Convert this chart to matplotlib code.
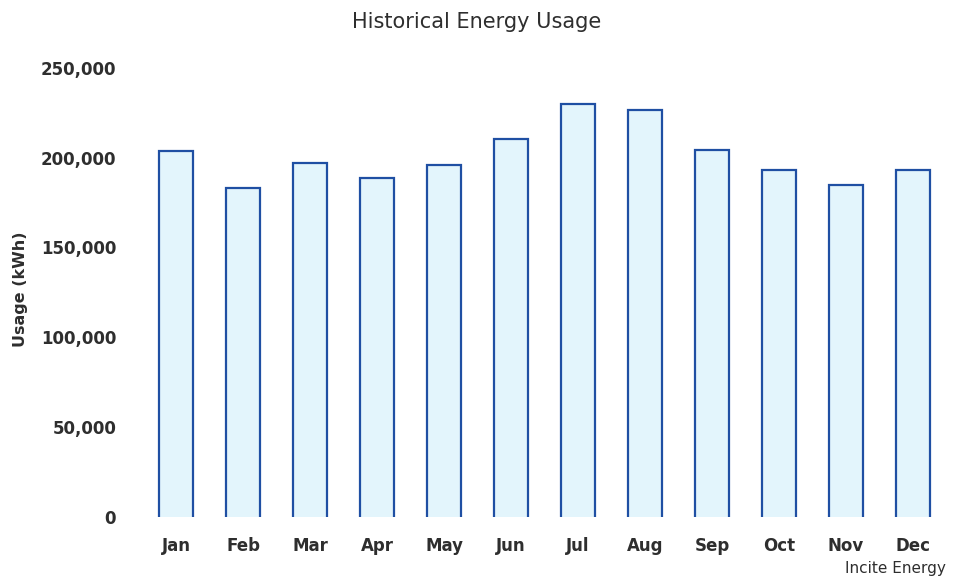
import matplotlib
matplotlib.use('Agg')
import matplotlib.pyplot as plt
from matplotlib.ticker import FuncFormatter

months = ['Jan', 'Feb', 'Mar', 'Apr', 'May', 'Jun',
          'Jul', 'Aug', 'Sep', 'Oct', 'Nov', 'Dec']
usage_kwh = [203600, 182900, 197100, 188800, 195800, 210100,
             229500, 226300, 204000, 192900, 184800, 192900]
y_ticks = [0, 50000, 100000, 150000, 200000, 250000]

fill_col = '#e3f5fc'
edge_col = '#1f4fa3'
text_col = '#2e2e2e'

fig = plt.figure(figsize=(9.54, 5.78), dpi=100)
ax = fig.add_axes([0.1494, 0.1047, 0.8427, 0.7785])

bars = ax.bar(range(len(months)), usage_kwh, width=0.5,
              color=fill_col, edgecolor='none')

# outline only the sides and top of each bar
for b in bars:
    x0 = b.get_x()
    x1 = x0 + b.get_width()
    h = b.get_height()
    ax.plot([x0, x0, x1, x1], [0, h, h, 0], color=edge_col, lw=1.6,
            solid_joinstyle='miter')

ax.set_xlim(-0.5, len(months) - 0.5)
ax.set_ylim(0, 250000)
ax.set_xticks(range(len(months)))
ax.set_xticklabels(months)
ax.set_yticks(y_ticks)
ax.yaxis.set_major_formatter(FuncFormatter(lambda v, p: f'{int(v):,}'))

for s in ax.spines.values():
    s.set_visible(False)
ax.tick_params(axis='both', length=0, labelsize=12, labelcolor=text_col)
ax.tick_params(axis='y', pad=19)
ax.tick_params(axis='x', pad=14)
for lab in ax.get_xticklabels() + ax.get_yticklabels():
    lab.set_fontweight('bold')

fig.text(0.0215, 0.5, 'Usage (kWh)', rotation=90, ha='center', va='center',
         fontsize=11.5, fontweight='bold', color=text_col)
fig.text(0.5, 0.962, 'Historical Energy Usage', ha='center', va='center',
         fontsize=15, color=text_col)
fig.text(0.991, 0.017, 'Incite Energy', ha='right', va='center',
         fontsize=11, color=text_col)

fig.savefig('out.png', dpi=100)
